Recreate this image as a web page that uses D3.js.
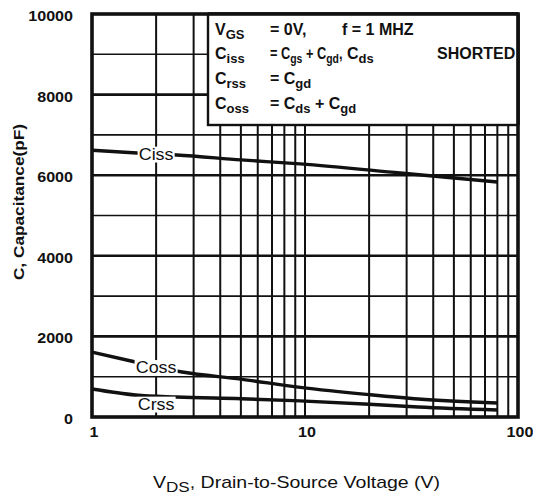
<!DOCTYPE html>
<html>
<head>
<meta charset="utf-8">
<script src="https://cdn.jsdelivr.net/npm/d3@7"></script>
<style>
  body { margin: 0; background: #fff; }
  text { font-family: "Liberation Sans", Arial, Helvetica, sans-serif; fill: #111; }
</style>
</head>
<body>
<svg id="chart" width="533" height="494"></svg>
<script>
// Axis ticks
const xTickValues = [1, 10, 100];
const yTickValues = [0, 2000, 4000, 6000, 8000, 10000];
const yMinorValues = [1000, 3000, 5000, 7000, 9000];
const xGridValues = [2, 3, 4, 5, 6, 7, 8, 9, 10, 20, 30, 40, 50, 60, 70, 80, 90];

// Capacitance curves (VDS in volts, C in pF)
const cissVoltage = [1, 1.7, 2.5, 5, 9.5, 28, 80];
const cissValues  = [6620, 6545, 6500, 6380, 6280, 6055, 5830];
const cossVoltage = [1, 1.6, 2.65, 5, 9.5, 20, 34, 80];
const cossValues  = [1610, 1365, 1117, 940, 735, 555, 447, 347];
const crssVoltage = [1, 1.6, 2.5, 5, 9.5, 20, 34, 80];
const crssValues  = [695, 546, 496, 454, 400, 318, 248, 174];

const seriesNames = ["Ciss", "Coss", "Crss"];
const labelVoltage = [2.0, 2.0, 2.0];
const labelShift = [0, 1, 8];

const svg = d3.select("#chart");
const plotLeft = 92, plotRight = 518, plotTop = 14, plotBottom = 417;

const x = d3.scaleLog().domain([1, 100]).range([plotLeft, plotRight]);
const y = d3.scaleLinear().domain([0, 10000]).range([plotBottom, plotTop]);

// horizontally stretched text, like the wide type of the datasheet
function stretched(g, px, py, sx) {
  return g.append("g").attr("transform", `translate(${px},${py}) scale(${sx},1)`);
}

// grid
const grid = svg.append("g");
grid.selectAll(".vx").data(xGridValues).join("line")
  .attr("x1", d => x(d)).attr("x2", d => x(d))
  .attr("y1", plotTop).attr("y2", plotBottom)
  .attr("stroke", "#111").attr("stroke-width", 2);
grid.selectAll(".hmin").data(yMinorValues).join("line")
  .attr("x1", plotLeft).attr("x2", plotRight)
  .attr("y1", d => y(d)).attr("y2", d => y(d))
  .attr("stroke", "#111").attr("stroke-width", 1.6);
grid.selectAll(".hmaj").data(yTickValues.slice(1, -1)).join("line")
  .attr("x1", plotLeft).attr("x2", plotRight)
  .attr("y1", d => y(d)).attr("y2", d => y(d))
  .attr("stroke", "#111").attr("stroke-width", 2.6);

// curves
const line = d3.line().x(d => x(d[0])).y(d => y(d[1])).curve(d3.curveMonotoneX);
const series = [
  d3.zip(cissVoltage, cissValues),
  d3.zip(cossVoltage, cossValues),
  d3.zip(crssVoltage, crssValues)
];
svg.append("g").selectAll("path").data(series).join("path")
  .attr("d", line)
  .attr("fill", "none")
  .attr("stroke", "#111")
  .attr("stroke-width", 3.4);

// curve labels on white patches
function valueAt(vs, cs, v) {
  const s = d3.scaleLog().domain(vs).range(cs);
  return s(v);
}
seriesNames.forEach((name, i) => {
  const vs = [cissVoltage, cossVoltage, crssVoltage][i];
  const cs = [cissValues, cossValues, crssValues][i];
  const cx = x(labelVoltage[i]);
  const cy = y(valueAt(vs, cs, labelVoltage[i])) + labelShift[i];
  const g = stretched(svg, cx, cy, 1.12);
  const t = g.append("text")
    .attr("text-anchor", "middle").attr("dy", "0.36em")
    .attr("font-size", 16).text(name);
  const b = t.node().getBBox();
  g.insert("rect", "text")
    .attr("x", b.x - 1).attr("y", b.y + 1)
    .attr("width", b.width + 2).attr("height", b.height - 2)
    .attr("fill", "#fff");
});

// frame
svg.append("rect")
  .attr("x", plotLeft).attr("y", plotTop)
  .attr("width", plotRight - plotLeft).attr("height", plotBottom - plotTop)
  .attr("fill", "none").attr("stroke", "#111").attr("stroke-width", 3.6);

// y tick labels
yTickValues.forEach(v => {
  stretched(svg, 73, y(v) + 2, 1.15).append("text")
    .attr("text-anchor", "end").attr("dy", "0.36em")
    .attr("font-size", 14).attr("font-weight", "bold")
    .text(v);
});
// x tick labels
xTickValues.forEach(v => {
  stretched(svg, x(v) + 2, 437, 1.15).append("text")
    .attr("text-anchor", "middle")
    .attr("font-size", 14).attr("font-weight", "bold")
    .text(v);
});

// rich text with subscripts
function rich(parent, px, py, parts, size, subSize, weight) {
  const t = parent.append("text").attr("x", px).attr("y", py)
    .attr("font-size", size).attr("font-weight", weight);
  let down = false;
  parts.forEach(p => {
    const isSub = typeof p !== "string";
    const s = t.append("tspan").text(isSub ? p.sub : p);
    if (isSub) {
      s.attr("font-size", subSize);
      if (!down) { s.attr("dy", 4); down = true; }
    } else if (down) { s.attr("dy", -4); down = false; }
  });
  return t;
}

// axis titles
const xt = stretched(svg, 153, 488, 1.22);
rich(xt, 0, 0, ["V", {sub: "DS"}, ", Drain-to-Source Voltage (V)"], 16, 14, "normal");

const yt = svg.append("g").attr("transform", "translate(24,202) rotate(-90) scale(1.15,1)");
yt.append("text").attr("text-anchor", "middle")
  .attr("font-size", 15).attr("font-weight", "bold")
  .text("C, Capacitance(pF)");

// legend box
const legendLeft = 208, legendBottom = 125;
svg.append("rect")
  .attr("x", legendLeft).attr("y", plotTop)
  .attr("width", plotRight - legendLeft).attr("height", legendBottom - plotTop)
  .attr("fill", "#fff").attr("stroke", "#111").attr("stroke-width", 2.4);
svg.append("line").attr("x1", legendLeft).attr("x2", plotRight).attr("y1", plotTop).attr("y2", plotTop)
  .attr("stroke", "#111").attr("stroke-width", 3.6);
svg.append("line").attr("x1", plotRight).attr("x2", plotRight).attr("y1", plotTop).attr("y2", legendBottom)
  .attr("stroke", "#111").attr("stroke-width", 3.6);

// legend rows: [x, parts, horizontal scale]
const lg = svg.append("g");
const legendRows = [
  { y: 35, items: [[215, ["V", {sub: "GS"}], 1], [270, ["= 0V,"], 1], [342, ["f = 1 MHZ"], 1]] },
  { y: 59, items: [[215, ["C", {sub: "iss"}], 1],
                   [270, ["= C", {sub: "gs"}, " + C", {sub: "gd"}, ","], 0.8],
                   [347, ["C", {sub: "ds"}], 1], [437, ["SHORTED"], 1]] },
  { y: 84, items: [[215, ["C", {sub: "rss"}], 1], [270, ["= C", {sub: "gd"}], 1]] },
  { y: 109, items: [[215, ["C", {sub: "oss"}], 1], [270, ["= C", {sub: "ds"}, " + C", {sub: "gd"}], 1]] }
];
legendRows.forEach(r => r.items.forEach(([px, parts, sx]) => {
  rich(stretched(lg, px, r.y, sx), 0, 0, parts, 16, 13, "bold");
}));
</script>
</body>
</html>
